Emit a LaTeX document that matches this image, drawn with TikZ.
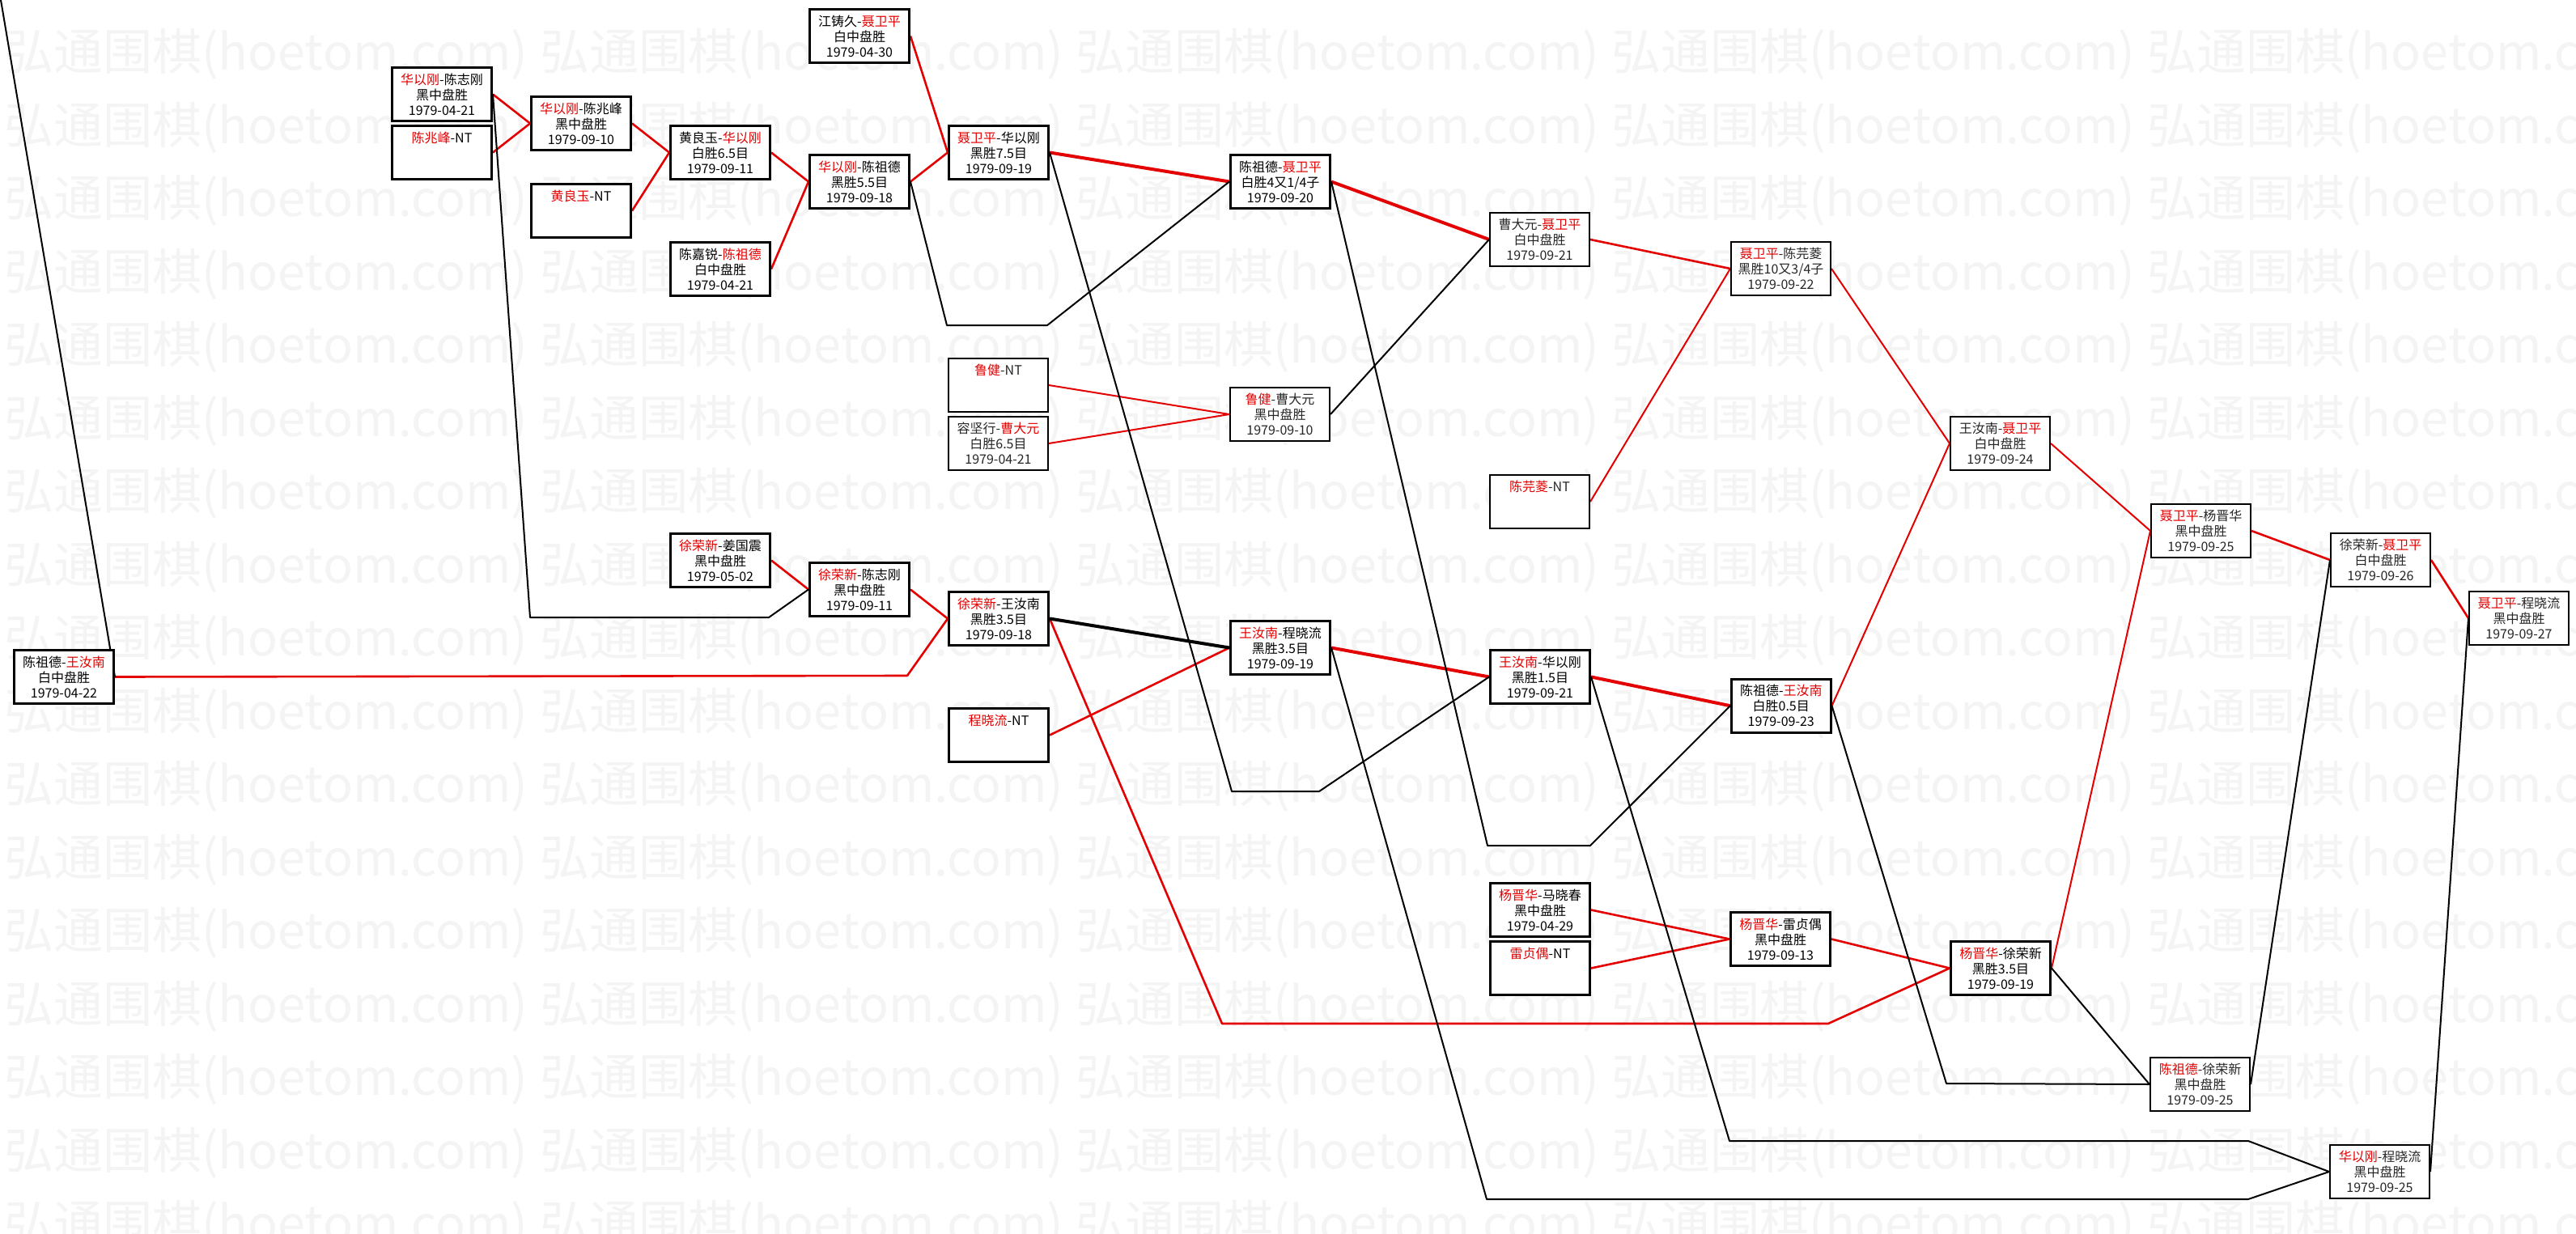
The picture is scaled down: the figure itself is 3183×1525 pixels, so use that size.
\documentclass[tikz,border=0pt]{standalone}
\usepackage{fontspec}
\setmainfont{Noto Sans CJK SC}
\newfontfamily\wmfont{Noto Sans CJK SC}
\usetikzlibrary{backgrounds}
\definecolor{lred}{RGB}{228,0,0}
\definecolor{wmgray}{RGB}{244,244,244}
\newcommand\R[1]{\textcolor{lred}{#1}}
\tikzset{
  mbox/.style={draw=black, line width=3pt, fill=white, minimum width=123pt, minimum height=66pt,
    inner sep=0pt, anchor=north west, align=center, font=\fontsize{16}{19}\selectfont},
  tbox/.style={mbox, line width=2pt, text=black!85},
  rl/.style={draw=lred, line width=2.6pt, line join=round},
  rlthin/.style={rl, line width=2pt},
  rlt/.style={rl, line width=4pt},
  bl/.style={draw=black, line width=2pt, line join=round},
  blt/.style={bl, line width=4pt},
  wm/.style={anchor=west, inner sep=0pt, text=wmgray, font=\wmfont\fontsize{61}{61}\selectfont}
}
\begin{document}
\begin{tikzpicture}[x=1pt,y=-1pt]
\useasboundingbox (0,0) rectangle (3183,1525);

% ---------- nodes ----------
\node[mbox] (n0422) at (16,802) {陈祖德-\R{王汝南}\\白中盘胜\\1979-04-22};
\node[mbox] (nA) at (483,82) {\R{华以刚}-陈志刚\\黑中盘胜\\1979-04-21};
\node[mbox] (nB) at (483,154) {\R{陈兆峰}-NT\\\mbox{}\\\mbox{}};
\node[mbox] (nC) at (655,118) {\R{华以刚}-陈兆峰\\黑中盘胜\\1979-09-10};
\node[mbox] (nD) at (655,226) {\R{黄良玉}-NT\\\mbox{}\\\mbox{}};
\node[mbox] (nE) at (827,154) {黄良玉-\R{华以刚}\\白胜6.5目\\1979-09-11};
\node[mbox] (nF) at (827,298) {陈嘉锐-\R{陈祖德}\\白中盘胜\\1979-04-21};
\node[mbox] (nG) at (999,10) {江铸久-\R{聂卫平}\\白中盘胜\\1979-04-30};
\node[mbox] (nH) at (999,190) {\R{华以刚}-陈祖德\\黑胜5.5目\\1979-09-18};
\node[mbox] (nI) at (1171,154) {\R{聂卫平}-华以刚\\黑胜7.5目\\1979-09-19};
\node[mbox] (nJ) at (1519,190) {陈祖德-\R{聂卫平}\\白胜4又1/4子\\1979-09-20};
\node[tbox] (nK) at (1171,442) {\R{鲁健}-NT\\\mbox{}\\\mbox{}};
\node[tbox] (nL) at (1171,514) {容坚行-\R{曹大元}\\白胜6.5目\\1979-04-21};
\node[tbox] (nM) at (1519,478) {\R{鲁健}-曹大元\\黑中盘胜\\1979-09-10};
\node[tbox] (nN) at (1840,262) {曹大元-\R{聂卫平}\\白中盘胜\\1979-09-21};
\node[tbox] (nO) at (2138,298) {\R{聂卫平}-陈芫菱\\黑胜10又3/4子\\1979-09-22};
\node[tbox] (nP) at (1840,586) {\R{陈芫菱}-NT\\\mbox{}\\\mbox{}};
\node[mbox] (nQ) at (827,658) {\R{徐荣新}-姜国震\\黑中盘胜\\1979-05-02};
\node[mbox] (nR) at (999,694) {\R{徐荣新}-陈志刚\\黑中盘胜\\1979-09-11};
\node[mbox] (nS) at (1171,730) {\R{徐荣新}-王汝南\\黑胜3.5目\\1979-09-18};
\node[mbox] (nT) at (1171,874) {\R{程晓流}-NT\\\mbox{}\\\mbox{}};
\node[mbox] (nU) at (1519,766) {\R{王汝南}-程晓流\\黑胜3.5目\\1979-09-19};
\node[mbox] (nV) at (1840,802) {\R{王汝南}-华以刚\\黑胜1.5目\\1979-09-21};
\node[mbox, line width=2.5pt] (nW) at (2138,838) {陈祖德-\R{王汝南}\\白胜0.5目\\1979-09-23};
\node[mbox] (nX) at (1840,1090) {\R{杨晋华}-马晓春\\黑中盘胜\\1979-04-29};
\node[mbox] (nY) at (1840,1162) {\R{雷贞偶}-NT\\\mbox{}\\\mbox{}};
\node[mbox] (nZ) at (2137,1126) {\R{杨晋华}-雷贞偶\\黑中盘胜\\1979-09-13};
\node[mbox] (nAA) at (2409,1162) {\R{杨晋华}-徐荣新\\黑胜3.5目\\1979-09-19};
\node[tbox] (nAB) at (2409,514) {王汝南-\R{聂卫平}\\白中盘胜\\1979-09-24};
\node[tbox] (nAC) at (2657,622) {\R{聂卫平}-杨晋华\\黑中盘胜\\1979-09-25};
\node[tbox] (nAD) at (2879,658) {徐荣新-\R{聂卫平}\\白中盘胜\\1979-09-26};
\node[tbox] (nAE) at (3050,730) {\R{聂卫平}-程晓流\\黑中盘胜\\1979-09-27};
\node[tbox] (nAF) at (2656,1306) {\R{陈祖德}-徐荣新\\黑中盘胜\\1979-09-25};
\node[tbox] (nAG) at (2878,1414) {\R{华以刚}-程晓流\\黑中盘胜\\1979-09-25};

\coordinate (tl) at (1,0);

\begin{pgfonlayer}{background}
  \fill[white] (0,0) rectangle (3183,1525);
  % watermark
  \begin{scope}
    \clip (0,0) rectangle (3183,1525);
    \foreach \k in {0,...,16} {
      \foreach \j in {0,...,4} {
        \node[wm] (wm-\k-\j) at ({5+662*\j},{67+90.5*\k}) {弘通围棋(hoetom.com)};
      }
    }
  \end{scope}

  % ---------- winner (red) connectors ----------
  \draw[rl] (nA.east) -- (nC.west);
  \draw[rl] (nB.east) -- (nC.west);
  \draw[rl] (nC.east) -- (nE.west);
  \draw[rl] (nD.east) -- (nE.west);
  \draw[rl] (nE.east) -- (nH.west);
  \draw[rl] (nF.east) -- (nH.west);
  \draw[rl] (nG.east) -- (nI.west);
  \draw[rl] (nH.east) -- (nI.west);
  \draw[rlt] (nI.east) -- (nJ.west);
  \draw[rlt] (nJ.east) -- (nN.west);
  \draw[rlthin] (nK.east) -- (nM.west);
  \draw[rlthin] (nL.east) -- (nM.west);
  \draw[rl] (nN.east) -- (nO.west);
  \draw[rlthin] (nP.east) -- (nO.west);
  \draw[rlthin] (nO.east) -- (nAB.west);
  \draw[rlthin] (nW.east) -- (nAB.west);
  \draw[rlthin] (nAB.east) -- (nAC.west);
  \draw[rlthin] (nAA.east) -- (nAC.west);
  \draw[rl] (nAC.east) -- (nAD.west);
  \draw[rl] (nAD.east) -- (nAE.west);
  \draw[rl] (nQ.east) -- (nR.west);
  \draw[rl] (n0422.east) -- (1121,835) -- (nS.west);
  \draw[rl] (nR.east) -- (nS.west);
  \draw[rl] (nS.east) -- (1510,1265) -- (2259,1265) -- (nAA.west);
  \draw[rl] (nT.east) -- (nU.west);
  \draw[rlt] (nU.east) -- (nV.west);
  \draw[rlt] (nV.east) -- (nW.west);
  \draw[rl] (nX.east) -- (nZ.west);
  \draw[rl] (nY.east) -- (nZ.west);
  \draw[rl] (nZ.east) -- (nAA.west);

  % ---------- loser (black) connectors ----------
  \draw[bl] (tl) -- (n0422.east);
  \draw[bl] (nA.east) -- (655,763) -- (950,763) -- (nR.west);
  \draw[bl] (nH.east) -- (1170,402) -- (1294,402) -- (nJ.west);
  \draw[bl] (nI.east) -- (1522,978) -- (1630,978) -- (nV.west);
  \draw[bl] (nJ.east) -- (1838,1045) -- (1965,1045) -- (nW.west);
  \draw[bl] (nM.east) -- (nN.west);
  \draw[blt] (nS.east) -- (nU.west);
  \draw[bl] (nU.east) -- (1837,1482) -- (2778,1482) -- (nAG.west);
  \draw[bl] (nV.east) -- (2137,1410) -- (2778,1410) -- (nAG.west);
  \draw[bl] (nW.east) -- (2405,1339) -- (nAF.west);
  \draw[bl] (nAA.east) -- (nAF.west);
  \draw[bl] (nAF.east) -- (nAD.west);
  \draw[bl] (nAG.east) -- (nAE.west);
\end{pgfonlayer}
\end{tikzpicture}
\end{document}
